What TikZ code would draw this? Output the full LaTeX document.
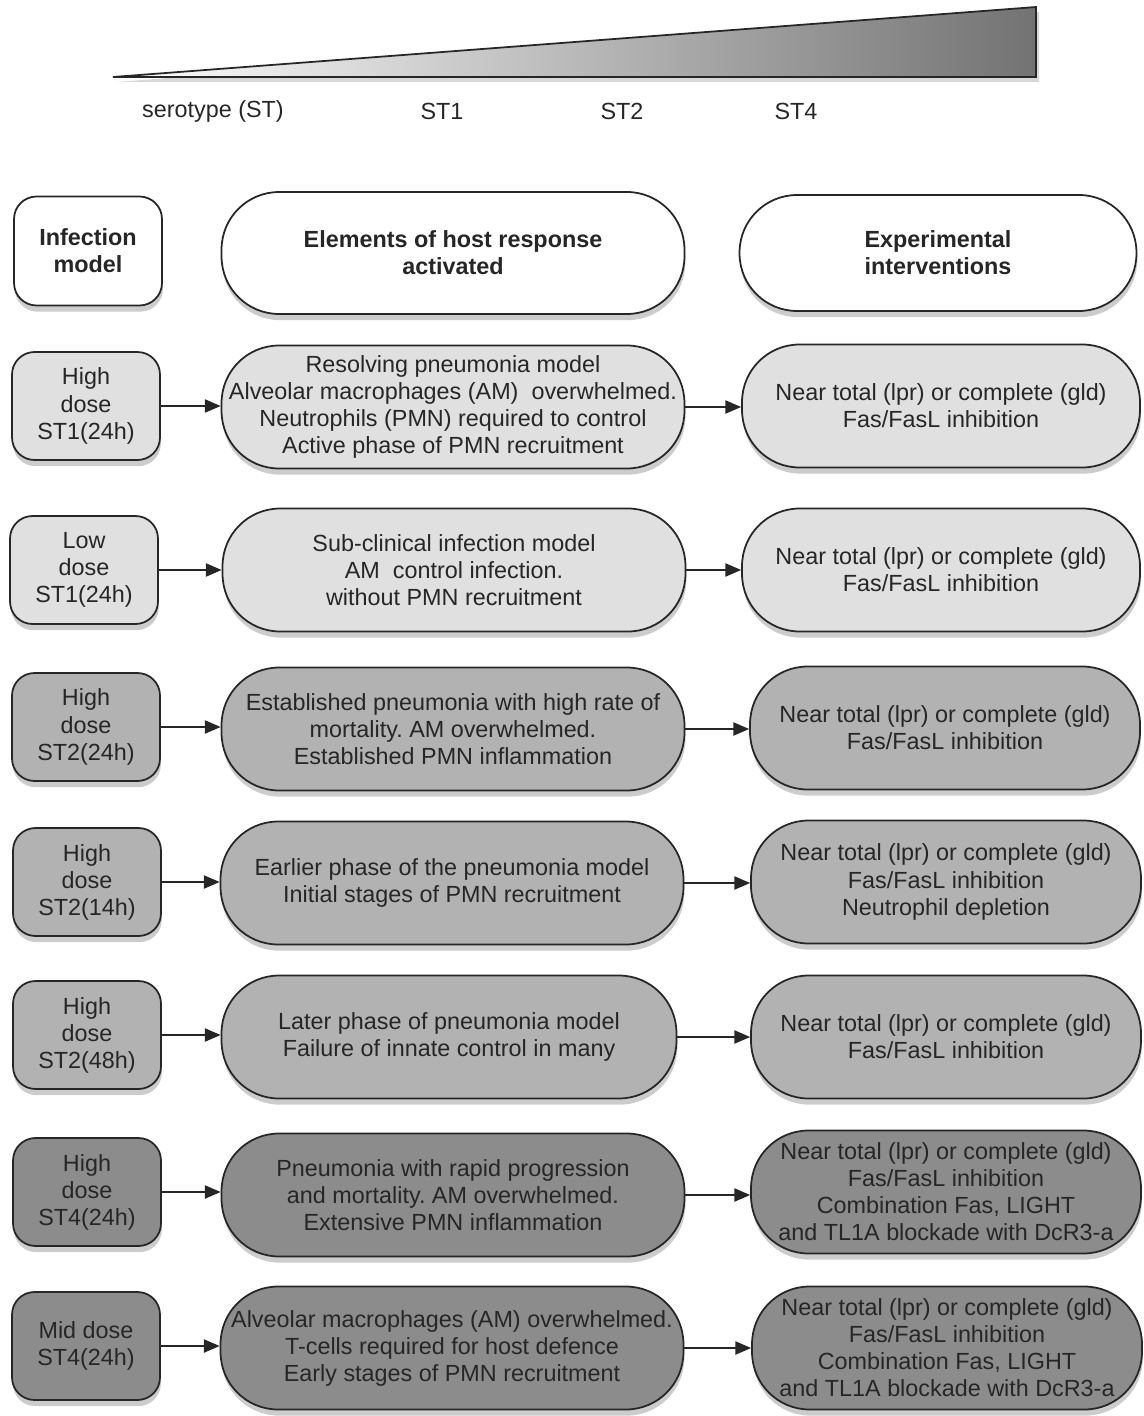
\documentclass[tikz,border=0pt]{standalone}
\usepackage{fontspec}
\setmainfont{Liberation Sans}
\usepackage{tikz}
\usetikzlibrary{calc, arrows.meta, shadows, positioning}
\frenchspacing

\begin{document}
\begin{tikzpicture}[x=0.02cm, y=-0.02cm,
  every node/.style={font=\fontsize{13.3}{15.4}\selectfont, align=center, text=black!85},
  box/.style={draw=black!85, line width=1pt,
    drop shadow={shadow xshift=0.5pt, shadow yshift=-3.5pt, opacity=0.4}},
  model/.style={box, rounded corners=0.45cm, minimum width=2.96cm, minimum height=2.16cm, inner sep=1pt},
  response/.style={box, rounded corners=1.15cm, minimum width=9.26cm, minimum height=2.46cm, inner sep=1pt},
  intervention/.style={box, rounded corners=1.15cm, minimum width=7.8cm, minimum height=2.46cm, inner sep=1pt},
  head/.style={fill=white, font=\fontsize{13.3}{15.4}\selectfont\bfseries},
  stA/.style={fill=black!12}, stB/.style={fill=black!30}, stC/.style={fill=black!45},
  flow/.style={-{Triangle[length=9pt, width=7.5pt]}, line width=0.9pt, black!85}
]
\useasboundingbox (0,0) rectangle (1143,1416);

% ------------------------------------------------------------------
% SEROTYPE WEDGE
% ------------------------------------------------------------------
\path
  (113,77) coordinate (W1)
  (1036,7) coordinate (W2)
  (1036,77) coordinate (W3);

% Shadow layer
\fill[black!30, opacity=0.5]
  ($(W1)+(3,5)$) -- ($(W2)+(3,5)$) -- ($(W3)+(3,5)$) -- cycle;

% Wedge with gradient
\shade[left color=white, right color=black!55, draw=black!85, line width=1pt]
  (W1) -- (W2) -- (W3) -- cycle;

\node (S0) at (213,111) {serotype (ST)};
\node (S1) at (442,111) {ST1};
\node (S2) at (622,111) {ST2};
\node (S4) at (796,111) {ST4};

% ------------------------------------------------------------------
% COLUMN HEADERS
% ------------------------------------------------------------------
\node[model, head, minimum height=2.18cm] (H1) at (88,251) {Infection\\model};
\node[response, head, minimum height=2.44cm] (H2) at (453,253) {Elements of host response\\activated};
\node[intervention, head, minimum width=7.94cm, minimum height=2.32cm] (H3) at (938,253) {Experimental\\interventions};

% ------------------------------------------------------------------
% ROWS: infection model / host response / interventions
% ------------------------------------------------------------------
\node[model, stA] (A1) at (86,406) {High\\dose\\ST1(24h)};
\node[response, stA] (B1) at (453,407) {Resolving pneumonia model\\Alveolar macrophages (AM)~~overwhelmed.\\Neutrophils (PMN) required to control\\Active phase of PMN recruitment};
\node[intervention, stA, minimum width=7.96cm] (C1) at (941,406) {Near total (lpr) or complete (gld)\\Fas/FasL inhibition};

\node[model, stA] (A2) at (84,570) {Low\\dose\\ST1(24h)};
\node[response, stA] (B2) at (454,570) {Sub-clinical infection model\\AM~~control infection.\\without PMN recruitment};
\node[intervention, stA, minimum width=7.96cm] (C2) at (941,570) {Near total (lpr) or complete (gld)\\Fas/FasL inhibition};

\node[model, stB] (A3) at (86,727) {High\\dose\\ST2(24h)};
\node[response, stB] (B3) at (453,729) {Established pneumonia with high rate of\\mortality. AM overwhelmed.\\Established PMN inflammation};
\node[intervention, stB] (C3) at (945,728) {Near total (lpr) or complete (gld)\\Fas/FasL inhibition};

\node[model, stB] (A4) at (87,882) {High\\dose\\ST2(14h)};
\node[response, stB] (B4) at (452,883) {Earlier phase of the pneumonia model\\Initial stages of PMN recruitment};
\node[intervention, stB] (C4) at (946,882) {Near total (lpr) or complete (gld)\\Fas/FasL inhibition\\Neutrophil depletion};

\node[model, stB] (A5) at (87,1035) {High\\dose\\ST2(48h)};
\node[response, stB, minimum width=9.1cm] (B5) at (449,1037) {Later phase of pneumonia model\\Failure of innate control in many};
\node[intervention, stB] (C5) at (946,1037) {Near total (lpr) or complete (gld)\\Fas/FasL inhibition};

\node[model, stC] (A6) at (87,1192) {High\\dose\\ST4(24h)};
\node[response, stC] (B6) at (453,1195) {Pneumonia with rapid progression\\and mortality. AM overwhelmed.\\Extensive PMN inflammation};
\node[intervention, stC] (C6) at (946,1192) {Near total (lpr) or complete (gld)\\Fas/FasL inhibition\\Combination Fas, LIGHT\\and TL1A blockade with DcR3-a};

\node[model, stC] (A7) at (86,1346) {Mid dose\\ST4(24h)};
\node[response, stC] (B7) at (452,1348) {Alveolar macrophages (AM) overwhelmed.\\T-cells required for host defence\\Early stages of PMN recruitment};
\node[intervention, stC] (C7) at (947,1348) {Near total (lpr) or complete (gld)\\Fas/FasL inhibition\\Combination Fas, LIGHT\\and TL1A blockade with DcR3-a};

% ------------------------------------------------------------------
% CONNECTORS
% ------------------------------------------------------------------
\foreach \i in {1,...,7} {
  \draw[flow] (A\i) -- (A\i -| B\i.west);
  \draw[flow] (B\i) -- (B\i -| C\i.west);
}

\end{tikzpicture}
\end{document}
